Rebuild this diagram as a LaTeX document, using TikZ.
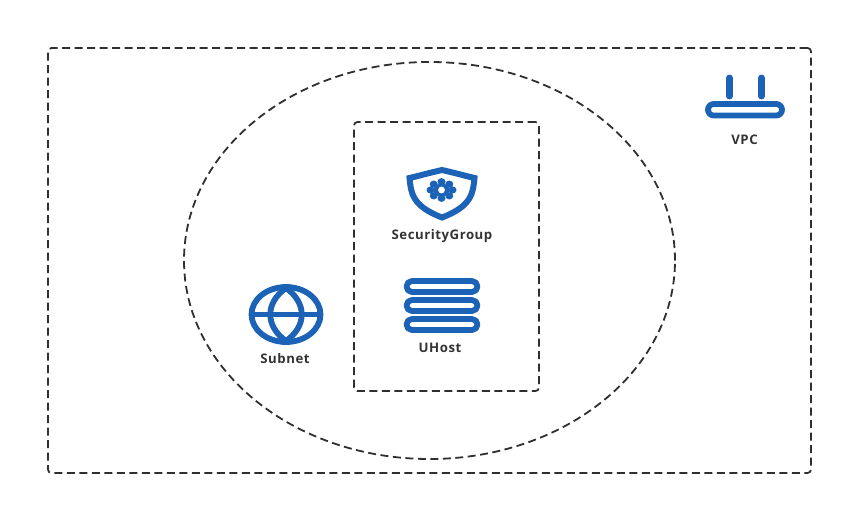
\documentclass[tikz,border=0pt]{standalone}
\usepackage{fontspec}
\usepackage{xcolor}
\usetikzlibrary{shapes,positioning}
\setmainfont{Open Sans}[LetterSpace=4]
\definecolor{iconblue}{HTML}{1C63B7}
\definecolor{labelgray}{HTML}{333333}
\definecolor{edgegray}{HTML}{2F2F2F}

\begin{document}
\begin{tikzpicture}[x=1pt, y=-1pt, semithick,
        region/.style={draw=edgegray, line width=1.8pt, dash pattern=on 8pt off 4.5pt, inner sep=0pt},
        regionbox/.style={region, rectangle, rounded corners=3.5pt},
        regionoval/.style={region, ellipse},
        icon/.style={draw=iconblue, line width=5.8pt, line cap=round, line join=round},
        iconlabel/.style={text=labelgray, font=\fontsize{13.2}{15}\selectfont\bfseries, inner sep=0pt}]
    \useasboundingbox (0,0) rectangle (843,506);
    \node[regionbox, minimum width=763pt, minimum height=425pt] (VPCzone) at (429.5,260.5) {};
    \node[regionoval, minimum width=491pt, minimum height=397pt] (SubnetZone) at (429.5,260.5) {};
    \node[regionbox, minimum width=185pt, minimum height=269pt] (HostZone) at (446.5,256.5) {};
    \node[iconlabel] (VPC) at (744.5,139.7) {VPC};
    \node[iconlabel] (SecurityGroup) at (442,236.5) {SecurityGroup};
    \node[iconlabel] (UHost) at (440,348) {UHost};
    \node[iconlabel] (Subnet) at (285,359) {Subnet};
    % VPC icon
    \draw[icon, line width=7pt] (729.5,78) -- (729.5,96);
    \draw[icon, line width=7pt] (761.5,78) -- (761.5,96);
    \draw[icon, rounded corners=5.7pt] (708,104) rectangle (782,115.5);
    % SecurityGroup icon
    \draw[icon, line width=6pt, miter limit=4, line join=miter] (442,170) .. controls (431,172.5) and (420,175.5) .. (409.5,178)
        .. controls (411,193) and (412,206) .. (442,217.5)
        .. controls (472,206) and (473,193) .. (474.5,178)
        .. controls (464,175.5) and (453,172.5) .. (442,170) -- cycle;
    \foreach \petal in {0,45,...,315} {
        \fill[iconblue] (441.5,190) ++(\petal:11 and 8.3) ellipse (4 and 3.6);
    }
    \fill[iconblue] (441.5,190) ellipse (8 and 6.5);
    \fill[white] (441.5,190) circle (3.4);
    % UHost icon
    \foreach \bartop in {281,300,319} {
        \draw[icon, rounded corners=5.5pt] (406.5,\bartop) rectangle (477.5,\bartop+11);
    }
    % Subnet icon
    \draw[icon] (286,314.5) ellipse (34.5 and 27.5);
    \draw[icon, line cap=butt] (252,314.5) -- (320,314.5);
    \draw[icon, line cap=butt] (286,288) .. controls (265,303) and (265,326) .. (286,341)
        .. controls (307,326) and (307,303) .. (286,288) -- cycle;
\end{tikzpicture}
\end{document}
